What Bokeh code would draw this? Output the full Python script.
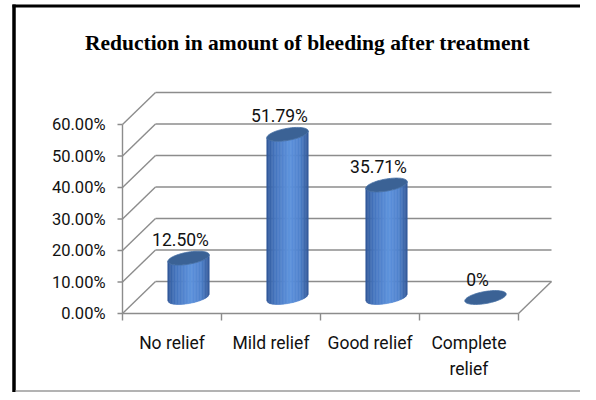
import numpy as np
from bokeh.plotting import figure
from bokeh.models import Range1d
from bokeh.core.properties import value
from bokeh.embed import file_html
from bokeh.resources import INLINE

# ---------------- data ----------------
title_text = "Reduction in amount of bleeding after treatment"
categories = ["No relief", "Mild relief", "Good relief", "Complete\nrelief"]
values = [12.50, 51.79, 35.71, 0.0]
value_labels = ["12.50%", "51.79%", "35.71%", "0%"]
y_ticks = [0, 10, 20, 30, 40, 50, 60]
y_tick_labels = ["0.00%", "10.00%", "20.00%", "30.00%", "40.00%", "50.00%", "60.00%"]

# ---------------- layout helpers ----------------
W, H = 580, 392
ORIG_X = 122.0   # canvas px of x = 0 (left edge of first category)
ORIG_Y = 313.0   # canvas px of 0 %
PX_X = 99.0      # px per category
PX_Y = 3.15      # px per percent


def dx(px):
    return px / PX_X


def dy(px):
    return px / PX_Y


def cx(px):
    return (px - ORIG_X) / PX_X


def cy(py):
    return (ORIG_Y - py) / PX_Y


DEPTH_X = dx(33)
DEPTH_Y = dy(32)
GRID = "#8c8c8c"
LABEL_FONT = value("Roboto")
TEXT_COL = "#111111"

p = figure(width=W, height=H, output_backend="svg", toolbar_location=None,
           x_range=Range1d(cx(0), cx(W)), y_range=Range1d(cy(H), cy(0)),
           x_axis_location=None, y_axis_location=None, min_border=0)
p.grid.visible = False
p.outline_line_color = None
p.background_fill_color = "white"
p.border_fill_color = "white"

n = len(categories)
nt = len(y_ticks)
ymax = max(y_ticks)

# back wall gridlines
gy = [t + DEPTH_Y for t in y_ticks]
p.segment(x0=[DEPTH_X] * nt, y0=gy, x1=[n + DEPTH_X] * nt, y1=gy,
          line_color=GRID, line_width=1.4)
# side wall diagonals
p.segment(x0=[0] * nt, y0=y_ticks, x1=[DEPTH_X] * nt, y1=gy,
          line_color=GRID, line_width=1.4)
# floor right edge
p.segment(x0=[n], y0=[0], x1=[n + DEPTH_X], y1=[DEPTH_Y],
          line_color=GRID, line_width=1.4)
# front floor line & value axis line
p.segment(x0=[0, 0], y0=[0, 0], x1=[n, 0], y1=[0, ymax],
          line_color=GRID, line_width=1.4)
# value axis ticks
p.segment(x0=[-dx(5)] * nt, y0=y_ticks, x1=[0] * nt, y1=y_ticks,
          line_color=GRID, line_width=1.4)
# category boundary ticks
p.segment(x0=list(range(n + 1)), y0=[0] * (n + 1), x1=list(range(n + 1)),
          y1=[-dy(7)] * (n + 1), line_color=GRID, line_width=1.4)

# ---------------- cylinders ----------------
A, B, TH = 21.0, 6.0, np.deg2rad(10)
s_, c_ = np.sin(TH), np.cos(TH)
XMAX = np.sqrt(A ** 2 * c_ ** 2 + B ** 2 * s_ ** 2)


def ellipse_pts(xc, yc, m=72):
    t = np.linspace(0, 2 * np.pi, m)
    ex = A * np.cos(t) * c_ - B * np.sin(t) * s_
    ey = A * np.cos(t) * s_ + B * np.sin(t) * c_
    return list(xc + dx(ex)), list(yc + dy(ey))


def lower(xpx):
    aq = s_ * s_ / A ** 2 + c_ * c_ / B ** 2
    bq = 2 * xpx * s_ * c_ * (1 / A ** 2 - 1 / B ** 2)
    cq = xpx ** 2 * (c_ * c_ / A ** 2 + s_ * s_ / B ** 2) - 1
    disc = np.maximum(bq * bq - 4 * aq * cq, 0)
    return (-bq - np.sqrt(disc)) / (2 * aq)


stops = [(0.0, (48, 86, 152)), (0.18, (68, 116, 188)), (0.55, (94, 147, 220)),
         (0.8, (80, 131, 206)), (1.0, (50, 88, 152))]


def grad(s):
    for (s0, c0), (s1, c1) in zip(stops[:-1], stops[1:]):
        if s0 <= s <= s1:
            f = (s - s0) / (s1 - s0)
            r, g, b = [int(round(a + (bb - a) * f)) for a, bb in zip(c0, c1)]
            return "#%02x%02x%02x" % (r, g, b)
    return "#%02x%02x%02x" % stops[-1][1]


NS = 28
edges = np.linspace(-XMAX, XMAX, NS + 1)
base_y = DEPTH_Y / 2
for i, v in enumerate(values):
    xc = i + 0.5 + DEPTH_X / 2
    if v > 0:
        xs_list, ys_list, cols = [], [], []
        for j in range(NS):
            xa, xb = edges[j], edges[j + 1]
            la, lb = lower(xa), lower(xb)
            xs_list.append([xc + dx(xa), xc + dx(xb), xc + dx(xb), xc + dx(xa)])
            ys_list.append([base_y + dy(la), base_y + dy(lb),
                            base_y + dy(lb) + v, base_y + dy(la) + v])
            cols.append(grad((j + 0.5) / NS))
        p.patches(xs=xs_list, ys=ys_list, fill_color=cols, line_color=cols,
                  line_width=0.6)
    ex, ey = ellipse_pts(xc, base_y + v)
    p.patch(ex, ey, fill_color="#3b6295", line_color="#4670a5", line_width=0.8)

# data labels
lx = [i + 0.5 + DEPTH_X / 2 - dx(8) for i in range(n)]
ly = [base_y + v + dy(18) for v in values]
p.text(x=lx, y=ly, text=value_labels, text_font=LABEL_FONT,
       text_font_size="17.5px", text_color=TEXT_COL,
       text_align="center", text_baseline="middle")

# value axis tick labels
p.text(x=[cx(105)] * nt, y=y_ticks, text=y_tick_labels, text_font=LABEL_FONT,
       text_font_size="16.5px", text_color=TEXT_COL,
       text_align="right", text_baseline="middle")

# category labels
p.text(x=[i + 0.5 for i in range(n)], y=[cy(332)] * n, text=categories,
       text_font=LABEL_FONT, text_font_size="17.5px", text_color=TEXT_COL,
       text_align="center", text_baseline="top", text_line_height=1.3)

# title
p.text(x=[cx(307)], y=[cy(42)], text=[title_text],
       text_font=value("Liberation Serif"), text_font_style="bold",
       text_font_size="21.5px", text_color="black",
       text_align="center", text_baseline="middle")

# chart frame
p.segment(x0=[cx(13.5)], y0=[cy(4)], x1=[cx(13.5)], y1=[cy(H)],
          line_color="black", line_width=3.5)
p.segment(x0=[cx(12)], y0=[cy(5.5)], x1=[cx(W)], y1=[cy(5.5)],
          line_color="black", line_width=3)
p.segment(x0=[cx(15)], y0=[cy(390.5)], x1=[cx(W)], y1=[cy(390.5)],
          line_color="#9a9a9a", line_width=1.5)

open("out.html", "w").write(file_html(p, INLINE))
